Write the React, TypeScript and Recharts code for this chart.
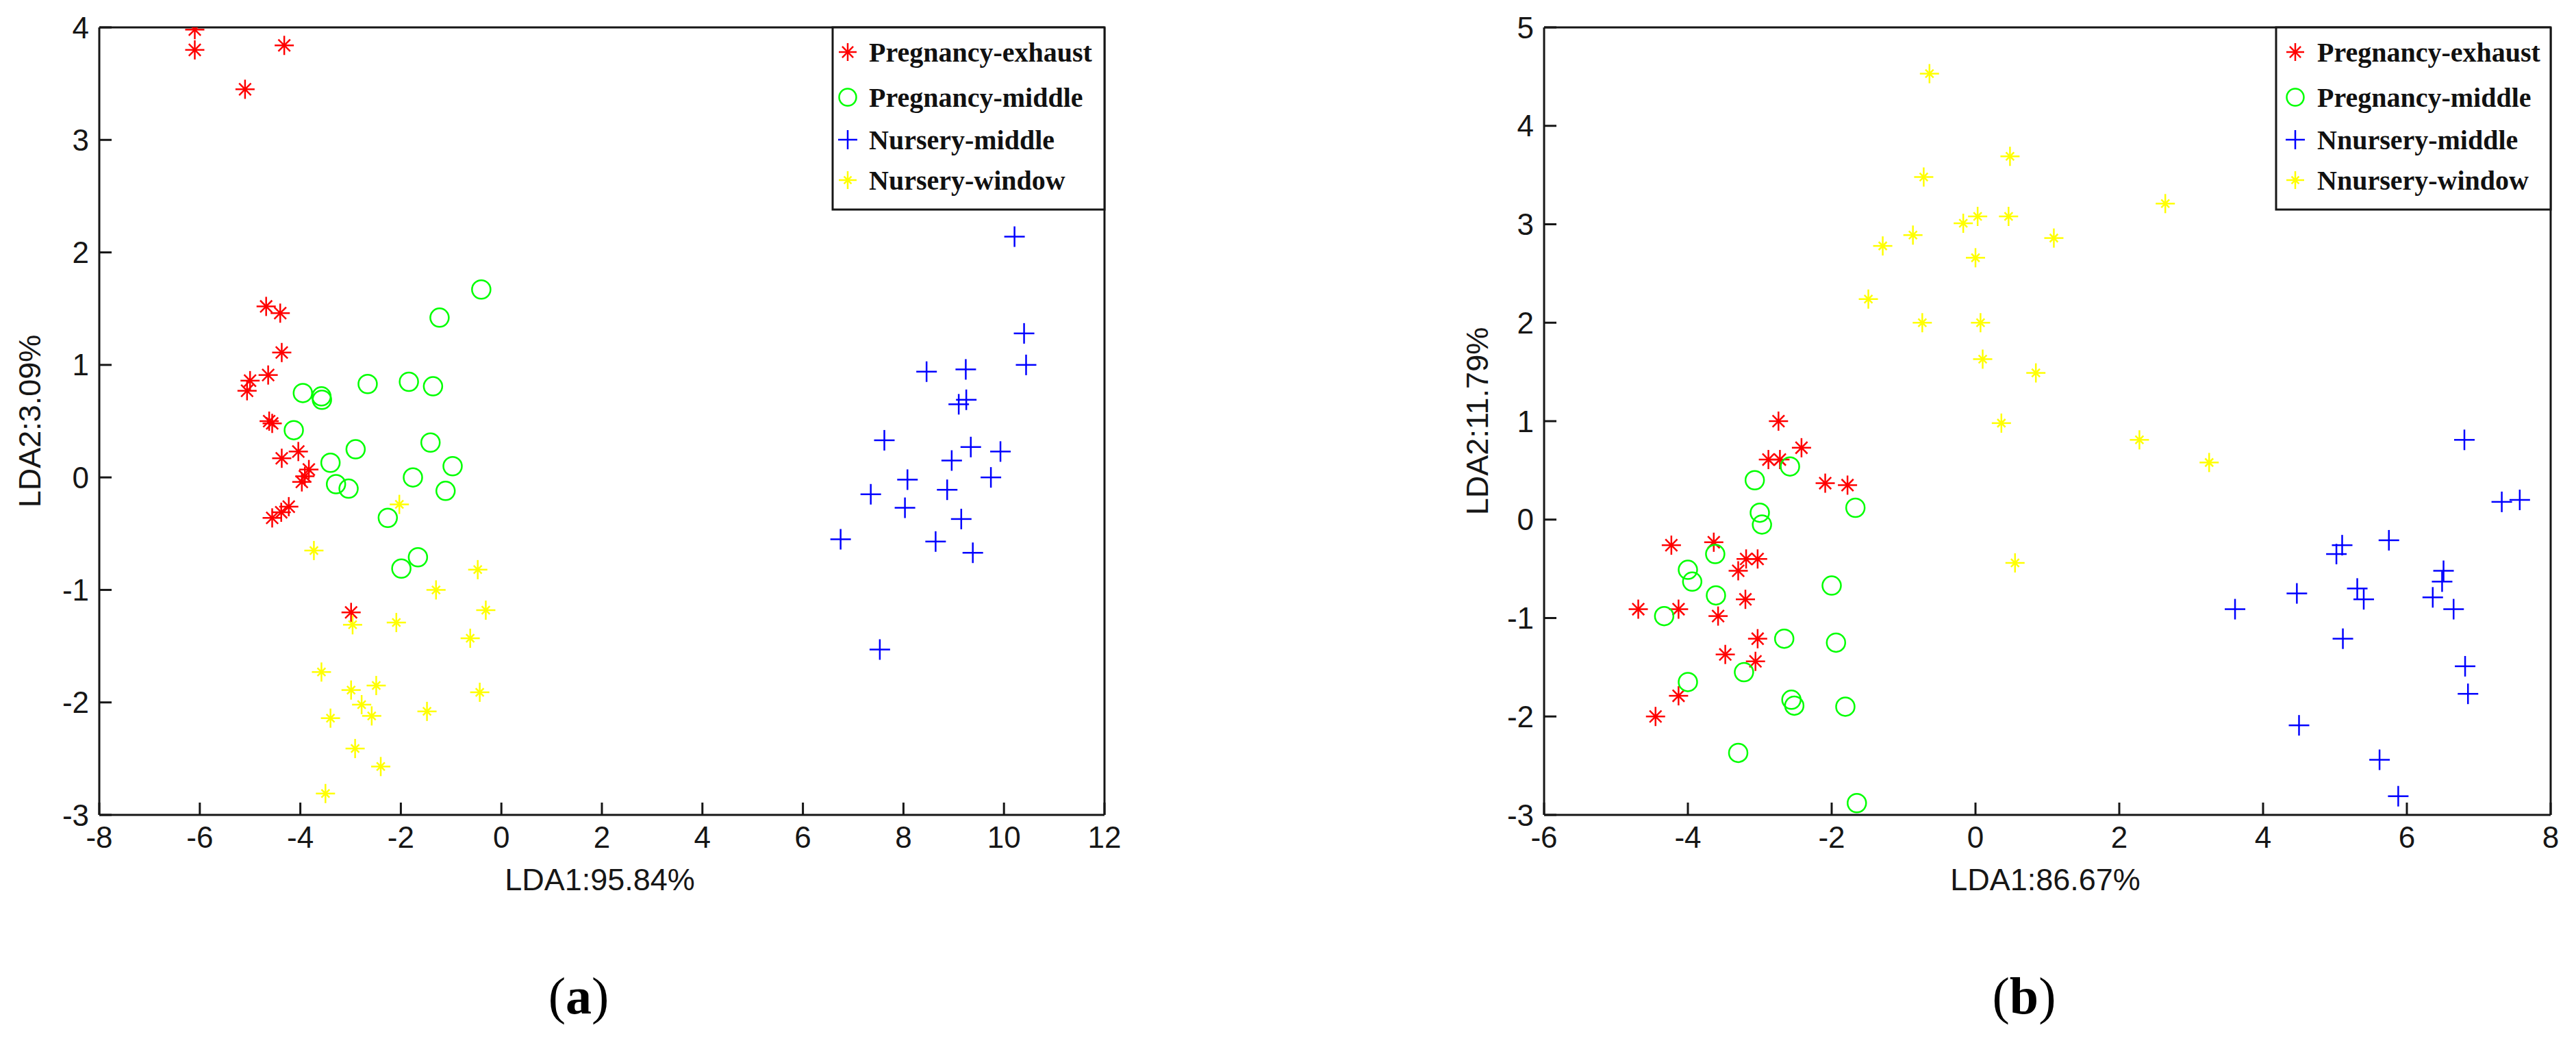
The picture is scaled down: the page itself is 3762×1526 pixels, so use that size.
import * as React from 'react'
import { Scatter, ScatterChart, XAxis, YAxis } from 'recharts'

// LDA scores
const aPregExhaust = [
  { x: -6.1, y: 3.98 }, { x: -6.1, y: 3.8 }, { x: -4.32, y: 3.84 }, { x: -5.1, y: 3.45 },
  { x: -4.68, y: 1.52 }, { x: -4.4, y: 1.46 }, { x: -4.37, y: 1.11 }, { x: -4.64, y: 0.91 },
  { x: -5.0, y: 0.86 }, { x: -5.06, y: 0.77 }, { x: -4.62, y: 0.5 }, { x: -4.56, y: 0.48 },
  { x: -4.04, y: 0.23 }, { x: -4.37, y: 0.17 }, { x: -3.83, y: 0.07 }, { x: -3.91, y: 0.01 },
  { x: -3.97, y: -0.04 }, { x: -4.23, y: -0.26 }, { x: -4.38, y: -0.31 }, { x: -4.56, y: -0.36 },
  { x: -2.99, y: -1.2 },
]
const aPregMiddle = [
  { x: -0.4, y: 1.67 }, { x: -1.23, y: 1.42 }, { x: -3.95, y: 0.75 }, { x: -3.58, y: 0.72 },
  { x: -3.57, y: 0.69 }, { x: -2.66, y: 0.83 }, { x: -1.84, y: 0.85 }, { x: -1.36, y: 0.81 },
  { x: -4.13, y: 0.42 }, { x: -2.9, y: 0.25 }, { x: -1.41, y: 0.31 }, { x: -3.4, y: 0.13 },
  { x: -0.97, y: 0.1 }, { x: -1.76, y: 0.0 }, { x: -3.29, y: -0.06 }, { x: -3.04, y: -0.1 },
  { x: -1.11, y: -0.12 }, { x: -2.26, y: -0.36 }, { x: -1.66, y: -0.71 }, { x: -1.99, y: -0.81 },
]
const aNurseryMiddle = [
  { x: 10.21, y: 2.14 }, { x: 10.4, y: 1.28 }, { x: 10.44, y: 1.0 }, { x: 8.46, y: 0.94 },
  { x: 9.24, y: 0.96 }, { x: 9.25, y: 0.69 }, { x: 9.1, y: 0.65 }, { x: 7.62, y: 0.33 },
  { x: 9.34, y: 0.27 }, { x: 9.93, y: 0.23 }, { x: 8.96, y: 0.15 }, { x: 8.08, y: -0.02 },
  { x: 9.74, y: 0.0 }, { x: 7.35, y: -0.15 }, { x: 8.87, y: -0.11 }, { x: 8.03, y: -0.27 },
  { x: 9.15, y: -0.37 }, { x: 6.75, y: -0.55 }, { x: 8.64, y: -0.57 }, { x: 9.38, y: -0.67 },
  { x: 7.53, y: -1.53 },
]
const aNurseryWindow = [
  { x: -2.03, y: -0.24 }, { x: -3.73, y: -0.65 }, { x: -0.47, y: -0.82 }, { x: -1.3, y: -1.0 },
  { x: -0.31, y: -1.18 }, { x: -2.96, y: -1.31 }, { x: -2.09, y: -1.29 }, { x: -0.62, y: -1.43 },
  { x: -3.58, y: -1.73 }, { x: -2.99, y: -1.89 }, { x: -2.49, y: -1.85 }, { x: -0.43, y: -1.91 },
  { x: -2.78, y: -2.02 }, { x: -2.58, y: -2.12 }, { x: -3.4, y: -2.14 }, { x: -1.48, y: -2.08 },
  { x: -2.91, y: -2.41 }, { x: -2.4, y: -2.57 }, { x: -3.5, y: -2.81 },
]

// LDA scores
const bPregExhaust = [
  { x: -2.74, y: 1.0 }, { x: -2.42, y: 0.73 }, { x: -2.88, y: 0.61 }, { x: -2.72, y: 0.61 },
  { x: -2.09, y: 0.37 }, { x: -1.78, y: 0.35 }, { x: -4.23, y: -0.26 }, { x: -3.64, y: -0.23 },
  { x: -3.19, y: -0.4 }, { x: -3.03, y: -0.4 }, { x: -3.3, y: -0.52 }, { x: -3.2, y: -0.81 },
  { x: -4.69, y: -0.91 }, { x: -4.13, y: -0.91 }, { x: -3.58, y: -0.98 }, { x: -3.03, y: -1.21 },
  { x: -3.48, y: -1.37 }, { x: -3.06, y: -1.44 }, { x: -4.13, y: -1.79 }, { x: -4.45, y: -2.0 },
]
const bPregMiddle = [
  { x: -2.58, y: 0.54 }, { x: -3.07, y: 0.4 }, { x: -1.67, y: 0.12 }, { x: -3.0, y: 0.07 },
  { x: -2.97, y: -0.05 }, { x: -3.62, y: -0.35 }, { x: -4.0, y: -0.51 }, { x: -3.94, y: -0.63 },
  { x: -3.61, y: -0.77 }, { x: -2.0, y: -0.67 }, { x: -4.33, y: -0.98 }, { x: -2.66, y: -1.21 },
  { x: -1.94, y: -1.25 }, { x: -3.22, y: -1.55 }, { x: -4.0, y: -1.65 }, { x: -2.56, y: -1.83 },
  { x: -2.52, y: -1.89 }, { x: -1.81, y: -1.9 }, { x: -3.3, y: -2.37 }, { x: -1.65, y: -2.88 },
]
const bNurseryMiddle = [
  { x: 6.8, y: 0.81 }, { x: 7.32, y: 0.18 }, { x: 7.57, y: 0.2 }, { x: 5.75, y: -0.21 },
  { x: 5.1, y: -0.26 }, { x: 5.02, y: -0.35 }, { x: 6.51, y: -0.52 }, { x: 6.49, y: -0.63 },
  { x: 4.47, y: -0.75 }, { x: 5.31, y: -0.7 }, { x: 5.4, y: -0.81 }, { x: 6.36, y: -0.79 },
  { x: 3.61, y: -0.91 }, { x: 6.65, y: -0.91 }, { x: 5.11, y: -1.21 }, { x: 6.81, y: -1.49 },
  { x: 6.85, y: -1.77 }, { x: 4.5, y: -2.09 }, { x: 5.62, y: -2.44 }, { x: 5.88, y: -2.81 },
]
const bNurseryWindow = [
  { x: -0.64, y: 4.53 }, { x: 0.48, y: 3.69 }, { x: -0.72, y: 3.48 }, { x: -0.17, y: 3.01 },
  { x: 0.03, y: 3.08 }, { x: 0.46, y: 3.08 }, { x: -0.87, y: 2.89 }, { x: -1.29, y: 2.78 },
  { x: 0.0, y: 2.66 }, { x: 1.09, y: 2.86 }, { x: -1.49, y: 2.24 }, { x: -0.74, y: 2.0 },
  { x: 0.07, y: 2.0 }, { x: 0.1, y: 1.63 }, { x: 0.84, y: 1.49 }, { x: 0.36, y: 0.98 },
  { x: 2.64, y: 3.21 }, { x: 2.28, y: 0.81 }, { x: 3.25, y: 0.58 }, { x: 0.55, y: -0.44 },
]

const aXTicks = [-8, -6, -4, -2, 0, 2, 4, 6, 8, 10, 12]
const aYTicks = [-3, -2, -1, 0, 1, 2, 3, 4]
const bXTicks = [-6, -4, -2, 0, 2, 4, 6, 8]
const bYTicks = [-3, -2, -1, 0, 1, 2, 3, 4, 5]

const aLegendNames = ['Pregnancy-exhaust', 'Pregnancy-middle', 'Nursery-middle', 'Nursery-window']
const bLegendNames = ['Pregnancy-exhaust', 'Pregnancy-middle', 'Nnursery-middle', 'Nnursery-window']

const PAGE_W = 3762
const PAGE_H = 1526
const PLOT_TOP = 40
const PLOT_BOTTOM = 1190
const AXIS_W = 100
const AXIS_H = 60
const TICK = 18
const SANS = '"Liberation Sans", Arial, sans-serif'
const SERIF = '"Liberation Serif", "Times New Roman", serif'
const INK = '#161616'

type Marker = 'star' | 'circle' | 'plus' | 'sparkle'
const MARKERS: Marker[] = ['star', 'circle', 'plus', 'sparkle']
const COLORS = ['#ff0000', '#00ff00', '#0000ff', '#ffff00']

function Glyph({ cx, cy, kind, color, size = 14 }: { cx: number; cy: number; kind: Marker; color: string; size?: number }) {
  if (kind === 'circle') {
    return <circle cx={cx} cy={cy} r={size - 0.5} fill="none" stroke={color} strokeWidth={2.5} />
  }
  if (kind === 'plus') {
    const r = size + 1
    return (
      <g stroke={color} strokeWidth={2.5}>
        <line x1={cx - r} y1={cy} x2={cx + r} y2={cy} />
        <line x1={cx} y1={cy - r} x2={cx} y2={cy + r} />
      </g>
    )
  }
  // matlab '*' marker; the yellow one has short diagonals
  const d = kind === 'star' ? size * 0.62 : size * 0.42
  return (
    <g stroke={color} strokeWidth={2.5}>
      <line x1={cx - size} y1={cy} x2={cx + size} y2={cy} />
      <line x1={cx} y1={cy - size} x2={cx} y2={cy + size} />
      <line x1={cx - d} y1={cy - d} x2={cx + d} y2={cy + d} />
      <line x1={cx - d} y1={cy + d} x2={cx + d} y2={cy - d} />
    </g>
  )
}

const axisStroke = { stroke: INK, strokeWidth: 3 }
const tickFont = { fontSize: 44, fill: INK, fontFamily: SANS }

function Panel({
  left, width, plotLeft, plotRight, xDomain, xTicks, yDomain, yTicks, groups,
}: {
  left: number; width: number; plotLeft: number; plotRight: number
  xDomain: [number, number]; xTicks: number[]; yDomain: [number, number]; yTicks: number[]
  groups: { x: number; y: number }[][]
}) {
  // top / right axes are 1px tall/wide: recharts skips axes with zero size
  const margin = {
    top: PLOT_TOP - 1,
    right: left + width - plotRight - 1,
    bottom: PAGE_H - PLOT_BOTTOM - AXIS_H,
    left: plotLeft - left - AXIS_W,
  }
  return (
    <div style={{ position: 'absolute', left, top: 0 }}>
      <ScatterChart width={width} height={PAGE_H} margin={margin}>
        <XAxis
          type="number" dataKey="x" domain={xDomain} ticks={xTicks} interval={0} allowDataOverflow
          height={AXIS_H} tickSize={-TICK} tickMargin={35} tick={tickFont}
          axisLine={axisStroke} tickLine={axisStroke}
        />
        <XAxis
          xAxisId="top" orientation="top" type="number" dataKey="x" domain={xDomain} ticks={xTicks}
          interval={0} allowDataOverflow height={1} tickSize={-TICK} tick={false}
          axisLine={axisStroke} tickLine={axisStroke}
        />
        <YAxis
          type="number" dataKey="y" domain={yDomain} ticks={yTicks} interval={0} allowDataOverflow
          width={AXIS_W} tickSize={-TICK} tickMargin={33} tick={tickFont}
          axisLine={axisStroke} tickLine={axisStroke}
        />
        <YAxis
          yAxisId="right" orientation="right" type="number" dataKey="y" domain={yDomain} ticks={yTicks}
          interval={0} allowDataOverflow width={1} tickSize={-TICK} tick={false}
          axisLine={axisStroke} tickLine={axisStroke}
        />
        {groups.map((pts, i) => (
          <Scatter
            key={i}
            data={pts}
            isAnimationActive={false}
            shape={(p: any) => <Glyph cx={p.cx} cy={p.cy} kind={MARKERS[i]} color={COLORS[i]} />}
          />
        ))}
        {/* binds the frame axes to the same data so they get drawn */}
        <Scatter
          xAxisId="top" yAxisId="right" data={groups[0]} isAnimationActive={false}
          shape={() => <g />} legendType="none"
        />
      </ScatterChart>
    </div>
  )
}

function LegendBox({ x, right, names, markerDx, textDx }: { x: number; right: number; names: string[]; markerDx: number; textDx: number }) {
  const rows = [76, 142, 204, 263]
  return (
    <g>
      <rect x={x} y={PLOT_TOP} width={right - x} height={306 - PLOT_TOP} fill="#fff" stroke={INK} strokeWidth={3} />
      {names.map((n, i) => (
        <g key={n}>
          <Glyph cx={x + markerDx} cy={rows[i]} kind={MARKERS[i]} color={COLORS[i]} size={13} />
          <text
            x={x + textDx} y={rows[i] + 14} fontFamily={SERIF} fontWeight="bold" fontSize={40} fill="#111"
          >
            {n}
          </text>
        </g>
      ))}
    </g>
  )
}

export default function App() {
  return (
    <div style={{ position: 'relative', width: PAGE_W, height: PAGE_H, background: '#fff' }}>
      <style>{'body{margin:0}'}</style>
      <Panel
        left={0} width={1700} plotLeft={145} plotRight={1613}
        xDomain={[-8, 12]} xTicks={aXTicks} yDomain={[-3, 4]} yTicks={aYTicks}
        groups={[aPregExhaust, aPregMiddle, aNurseryMiddle, aNurseryWindow]}
      />
      <Panel
        left={1800} width={1962} plotLeft={2255} plotRight={3725}
        xDomain={[-6, 8]} xTicks={bXTicks} yDomain={[-3, 5]} yTicks={bYTicks}
        groups={[bPregExhaust, bPregMiddle, bNurseryMiddle, bNurseryWindow]}
      />
      <svg
        width={PAGE_W} height={PAGE_H}
        style={{ position: 'absolute', left: 0, top: 0, pointerEvents: 'none' }}
      >
        <LegendBox x={1216} right={1613} names={aLegendNames} markerDx={22} textDx={53} />
        <LegendBox x={3324} right={3725} names={bLegendNames} markerDx={28} textDx={60} />

        <g fontFamily={SANS} fontSize={45} fill={INK} textAnchor="middle">
          <text x={876} y={1300}>LDA1:95.84%</text>
          <text x={2987} y={1300}>LDA1:86.67%</text>
          <text transform="translate(59,615) rotate(-90)">LDA2:3.09%</text>
          <text transform="translate(2173,615) rotate(-90)">LDA2:11.79%</text>
        </g>

        <g fontFamily={SERIF} fontSize={76} fill="#000" textAnchor="middle">
          <text x={845} y={1480}>(<tspan fontWeight="bold">a</tspan>)</text>
          <text x={2956} y={1480}>(<tspan fontWeight="bold">b</tspan>)</text>
        </g>
      </svg>
    </div>
  )
}
